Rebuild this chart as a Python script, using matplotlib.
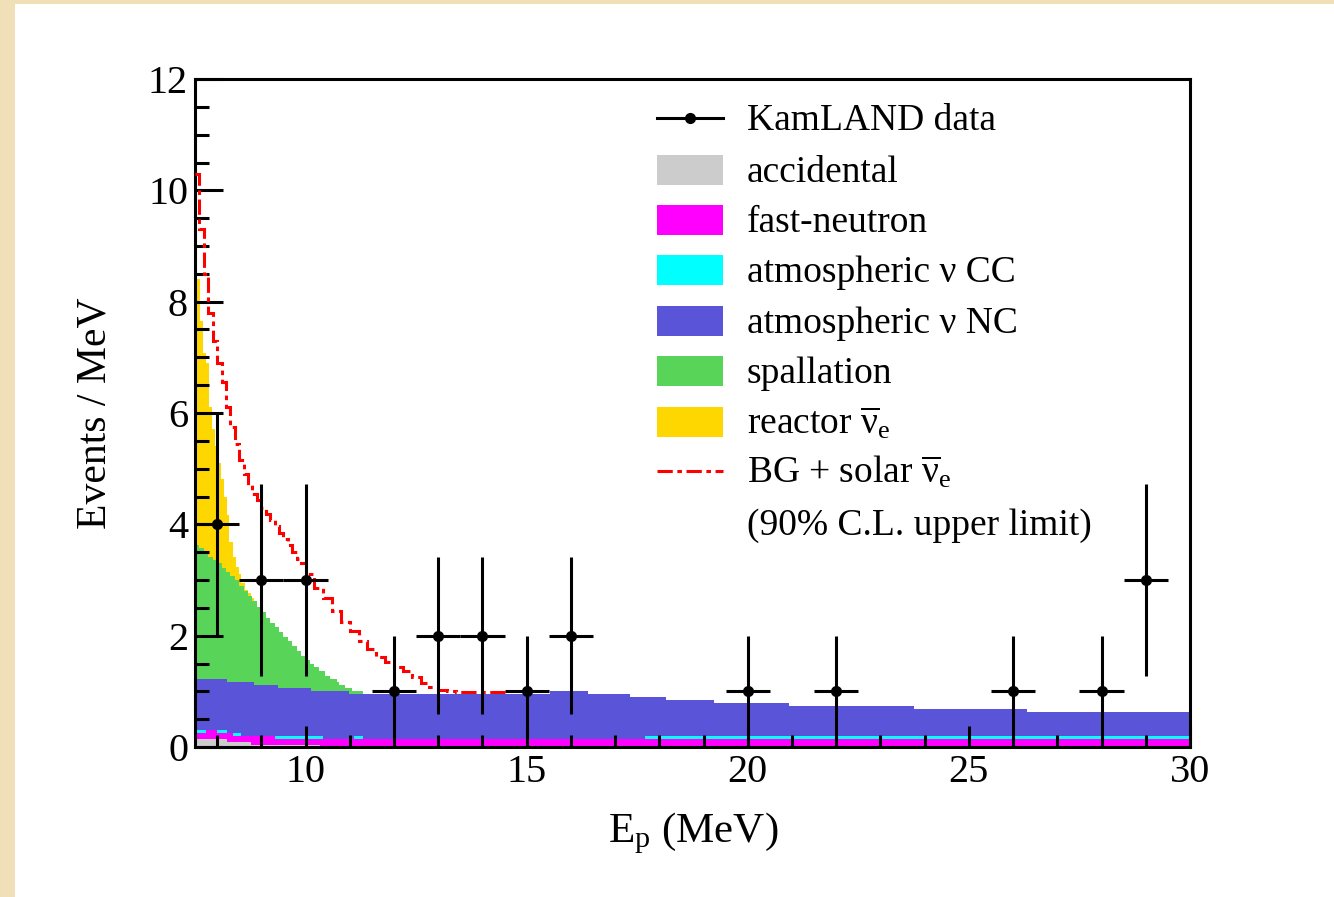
import numpy as np
import matplotlib
matplotlib.use("Agg")
import matplotlib.pyplot as plt
from matplotlib.patches import Rectangle
from matplotlib.lines import Line2D
from matplotlib.ticker import MultipleLocator

plt.rcParams["font.family"] = ["Liberation Serif", "DejaVu Serif"]
plt.rcParams["mathtext.fontset"] = "custom"
plt.rcParams["mathtext.rm"] = "Liberation Serif"
plt.rcParams["mathtext.it"] = "Liberation Serif:italic"

# KamLAND data points (counts per 1 MeV bin)
data_E = [8, 9, 10, 12, 13, 14, 15, 16, 20, 22, 26, 28, 29]
data_n = [4, 3, 3, 1, 2, 2, 1, 2, 1, 1, 1, 1, 3]
data_err = [2.0, 1.73, 1.73, 1.0, 1.41, 1.41, 1.0, 1.41, 1.0, 1.0, 1.0, 1.0, 1.73]
data_xerr = 0.5

# stacked background, read as cumulative tops (bottom component first)
acc_edges = [7.5, 8.22, 8.77, 10.33]
acc_top = [0.14, 0.09, 0.04]

fn_edges = [7.5, 7.75, 8.0, 8.35, 9.31, 30.0]
fn_top = [0.25, 0.30, 0.25, 0.20, 0.14]

cc_edges = [7.5, 8.22, 8.55, 10.39, 11.1, 11.3, 17.68, 30.0]
cc_top = [0.30, 0.25, 0.20, 0.14, 0.20, 0.14, 0.20]

nc_edges = [7.5, 8.22, 8.83, 9.37, 10.12, 10.98, 15.53, 16.38, 17.34,
            18.15, 19.24, 20.94, 23.77, 26.31, 30.0]
nc_top = [1.22, 1.17, 1.11, 1.06, 1.00, 0.96, 1.00, 0.95, 0.90,
          0.84, 0.79, 0.74, 0.68, 0.63]

spall_edges = list(np.round(np.arange(7.5, 10.31, 0.1), 2)) + [10.45, 10.55, 10.7, 10.75, 10.9, 11.05, 11.3]
spall_top = [3.63, 3.57, 3.47, 3.42, 3.36, 3.30, 3.22, 3.14, 3.08, 3.00,
             2.90, 2.80, 2.72, 2.62, 2.52, 2.42, 2.32, 2.22, 2.15, 2.07,
             1.98, 1.90, 1.81, 1.72, 1.63, 1.56, 1.49, 1.44,
             1.36, 1.27, 1.22, 1.17, 1.11, 1.06, 1.00]

reac_edges = [7.5, 7.61, 7.67, 7.74, 7.81, 7.88, 7.95, 8.01, 8.08, 8.15,
              8.22, 8.28, 8.35, 8.42, 8.49, 8.55, 8.62, 8.69, 8.76, 8.83]
reac_top = [8.40, 7.65, 7.07, 6.90, 6.11, 5.72, 5.40, 5.10, 4.81, 4.49,
            4.17, 3.69, 3.42, 3.24, 3.10, 2.94, 2.82, 2.76, 2.67]

# BG + solar anti-nu_e, 90% C.L. upper limit
ul_edges = (list(np.round(np.arange(7.5, 10.0, 0.1), 2))
            + list(np.round(np.arange(10.0, 13.41, 0.2), 2)) + [14.5])
ul_vals = [10.3, 9.3, 8.5, 7.8, 7.3, 6.9, 6.55, 6.1, 5.75, 5.45,
           5.15, 4.9, 4.7, 4.55, 4.43, 4.3, 4.18, 4.08, 3.97, 3.85,
           3.74, 3.63, 3.5, 3.38, 3.3,
           3.1, 2.85, 2.68, 2.45, 2.25, 2.08, 1.9, 1.76, 1.62, 1.52,
           1.44, 1.36, 1.25, 1.15, 1.08, 1.03, 1.0,
           0.98]

labels = ["KamLAND data", "accidental", "fast-neutron", "atmospheric ν CC",
          "atmospheric ν NC", "spallation", r"reactor $\overline{\mathrm{\nu}}_\mathrm{e}$",
          r"BG + solar $\overline{\mathrm{\nu}}_\mathrm{e}$"]
col_acc, col_fn, col_cc = "#cccccc", "#ff00ff", "#00ffff"
col_nc, col_sp, col_re = "#5a55d8", "#58d458", "#ffd700"
ul_style = (0, (5, 1.5, 1.5, 1.5))

W, H = 1334, 897
fig = plt.figure(figsize=(W / 100, H / 100), dpi=100)
fig.patch.set_facecolor("#f1dfb8")
fig.patches.append(Rectangle((15 / W, 0), 1 - 15 / W, 1 - 4 / H, transform=fig.transFigure,
                             facecolor="white", edgecolor="none", zorder=-10))

ax = fig.add_axes([195 / W, 1 - 747 / H, 995 / W, 668 / H])
ax.set_facecolor("white")

# draw stack from top component down so lower ones cover the upper fills
stack = [(reac_edges, reac_top, col_re), (spall_edges, spall_top, col_sp),
         (nc_edges, nc_top, col_nc), (cc_edges, cc_top, col_cc),
         (fn_edges, fn_top, col_fn), (acc_edges, acc_top, col_acc)]
for i, (ed, top, c) in enumerate(stack):
    ax.stairs(top, ed, fill=True, baseline=0, color=c, lw=0, zorder=1 + i * 0.05)

ax.stairs(ul_vals, ul_edges, baseline=None, color="red", lw=2.2, ls=ul_style, zorder=3)

ax.errorbar(data_E, data_n, xerr=data_xerr, yerr=[data_err, data_err], fmt="o",
            color="black", ms=7, elinewidth=2.2, capsize=0, zorder=5)

ax.set_xlim(7.5, 30)
ax.set_ylim(0, 12)
ax.xaxis.set_major_locator(MultipleLocator(5))
ax.xaxis.set_minor_locator(MultipleLocator(1))
ax.yaxis.set_major_locator(MultipleLocator(2))
ax.yaxis.set_minor_locator(MultipleLocator(0.5))
ax.tick_params(axis="both", which="both", direction="in", width=2.2, top=False, right=False,
               labelsize=29)
ax.tick_params(axis="x", which="major", length=15, pad=5)
ax.tick_params(axis="x", which="minor", length=8.5)
ax.tick_params(axis="y", which="major", length=20, pad=5)
ax.tick_params(axis="y", which="minor", length=10)
for s in ax.spines.values():
    s.set_linewidth(2.2)

fig.text(693 / W, 1 - 842 / H, r"E$_\mathrm{p}$ (MeV)", fontsize=31, ha="center", va="baseline")
fig.text(95 / W, 1 - 413 / H, "Events / MeV", fontsize=30, rotation=90, ha="center", va="center")

# legend, placed by hand to follow the original layout
def ax_x(px):
    return (px - 195) / 995

def ax_y(py):
    return (747 - py) / 668

rows = [118, 170, 220.5, 270, 321, 371, 422, 471]
h_x0, h_x1, t_x = ax_x(657), ax_x(723), ax_x(747)
fills = [None, col_acc, col_fn, col_cc, col_nc, col_sp, col_re, None]
for i, (lab, py) in enumerate(zip(labels, rows)):
    yc = ax_y(py)
    if i == 0:
        ax.add_line(Line2D([h_x0, h_x1], [yc, yc], color="black", lw=2.2, transform=ax.transAxes,
                           clip_on=False, zorder=6))
        ax.plot([(h_x0 + h_x1) / 2], [yc], "o", color="black", ms=7, transform=ax.transAxes,
                clip_on=False, zorder=6)
    elif i == 7:
        ax.add_line(Line2D([h_x0, h_x1], [yc, yc], color="red", lw=2.2, ls=ul_style,
                           transform=ax.transAxes, clip_on=False, zorder=6))
    else:
        ax.add_patch(Rectangle((h_x0, yc - 15 / 668), h_x1 - h_x0, 30 / 668, transform=ax.transAxes,
                               facecolor=fills[i], edgecolor="none", clip_on=False, zorder=6))
    ax.text(t_x, ax_y(py + 12), lab, transform=ax.transAxes, fontsize=27, va="baseline", ha="left")
ax.text(t_x, ax_y(535), "(90% C.L. upper limit)", transform=ax.transAxes, fontsize=27,
        va="baseline", ha="left")

fig.savefig("out.png", dpi=100, facecolor=fig.get_facecolor())
